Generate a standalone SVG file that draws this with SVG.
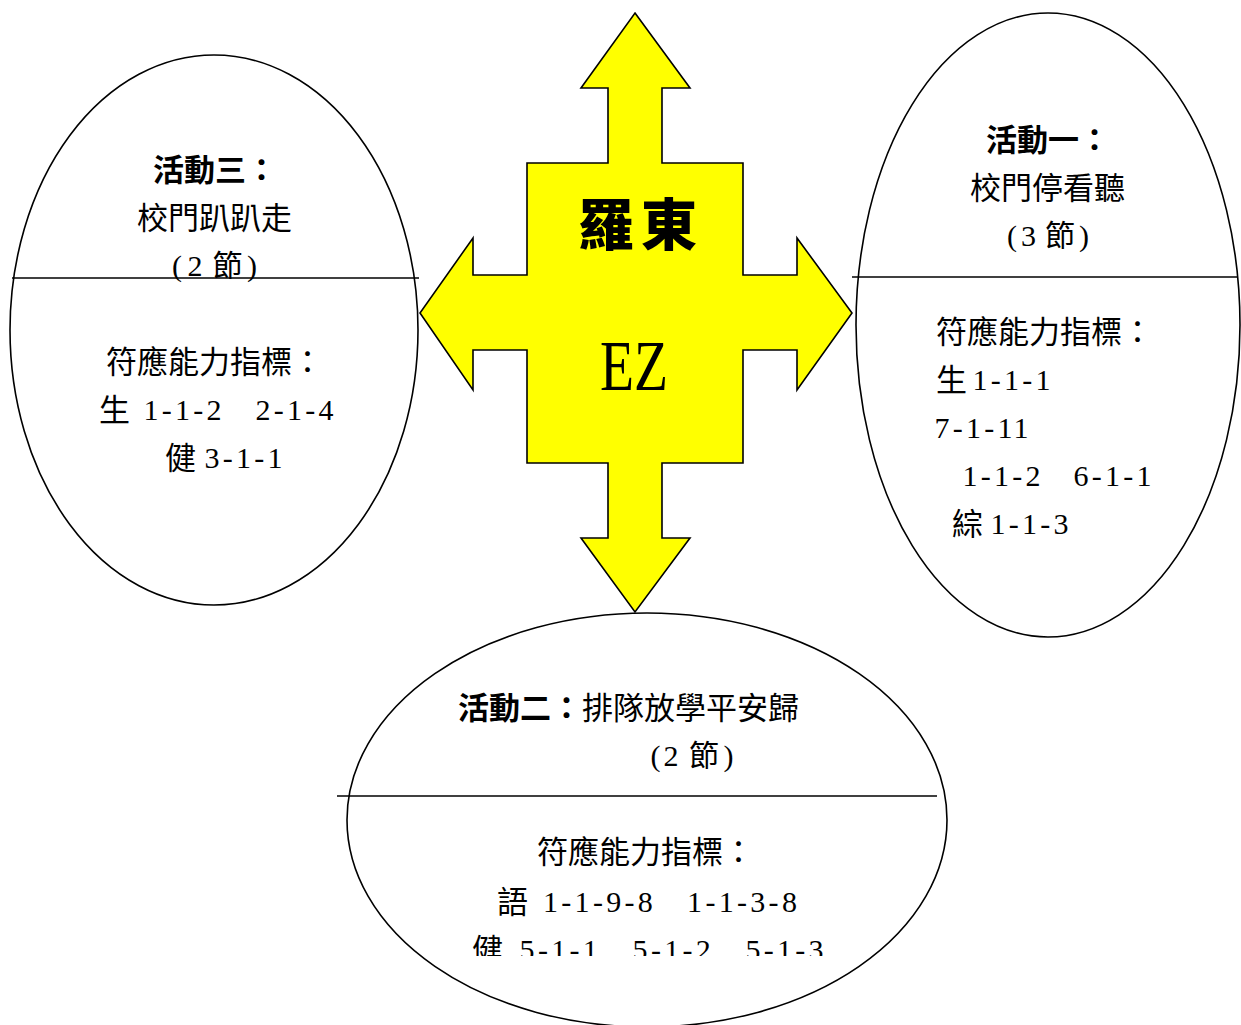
<svg xmlns="http://www.w3.org/2000/svg" width="1241" height="1025" viewBox="0 0 1241 1025">
<style>
.ell{fill:#ffffff;stroke:#000;stroke-width:1.6}
.div{stroke:#000;stroke-width:1.6}
.t{font-family:"Liberation Serif","Noto Sans CJK TC",serif;font-size:31px;fill:#000}
.n{font-family:"Liberation Serif",serif;font-size:30px;fill:#000;text-anchor:middle}
.p{font-family:"Liberation Serif","Noto Sans CJK TC",serif;font-size:30px;fill:#000;text-anchor:middle}
.b{font-weight:bold}
.arrow{fill:#ffff00;stroke:#000;stroke-width:1.6;stroke-linejoin:miter}
</style>
<defs>
<clipPath id="cut"><rect x="0" y="0" width="1241" height="956"/></clipPath>
</defs>
<rect x="0" y="0" width="1241" height="1025" fill="#ffffff"/>

<g id="activity3">
<ellipse class="ell" cx="214" cy="330" rx="204" ry="275"/>
<line class="div" x1="12" y1="278" x2="419" y2="278"/>
<text class="t b" x="153" y="181">活動三：</text>
<text class="t" x="137" y="229">校門趴趴走</text>
<text class="p" x="177 195 227.5 252" y="276">(2節)</text>
<text class="t" x="106" y="373">符應能力指標：</text>
<text class="t" x="99" y="421">生</text>
<text class="n" x="150.9 166.7 182.5 198.3 214.1" y="420">1-1-2</text>
<text class="n" x="262.9 278.7 294.5 310.3 326.1" y="420">2-1-4</text>
<text class="t" x="165" y="469">健</text>
<text class="n" x="211.9 227.7 243.5 259.3 275.1" y="468">3-1-1</text>
</g>

<g id="activity1">
<ellipse class="ell" cx="1048" cy="325" rx="192" ry="312"/>
<line class="div" x1="852" y1="277" x2="1237" y2="277"/>
<text class="t b" x="986" y="151">活動一：</text>
<text class="t" x="970" y="199">校門停看聽</text>
<text class="p" x="1012 1028.5 1060 1084" y="246">(3節)</text>
<text class="t" x="936" y="343">符應能力指標：</text>
<text class="t" x="936" y="391">生</text>
<text class="n" x="979.9 995.7 1011.5 1027.3 1043.1" y="390">1-1-1</text>
<text class="n" x="941.9 957.7 973.5 989.3 1005.1 1020.9" y="438">7-1-11</text>
<text class="n" x="969.9 985.7 1001.5 1017.3 1033.1" y="486">1-1-2</text>
<text class="n" x="1080.9 1096.7 1112.5 1128.3 1144.1" y="486">6-1-1</text>
<text class="t" x="952" y="535">綜</text>
<text class="n" x="997.9 1013.7 1029.5 1045.3 1061.1" y="534">1-1-3</text>
</g>

<g id="activity2">
<ellipse class="ell" cx="647" cy="820" rx="300" ry="207"/>
<line class="div" x1="337" y1="796" x2="937" y2="796"/>
<text class="t" x="458" y="719"><tspan class="b">活動二：</tspan><tspan>排隊放學平安歸</tspan></text>
<text class="p" x="655.5 671 704 728.6" y="766">(2節)</text>
<text class="t" x="537" y="863">符應能力指標：</text>
<text class="t" x="497" y="913">語</text>
<text class="n" x="550.5 566.3 582.1 597.9 613.7 629.5 645.3" y="912">1-1-9-8</text>
<text class="n" x="694.6 710.4 726.2 742.0 757.8 773.6 789.4" y="912">1-1-3-8</text>
<g clip-path="url(#cut)">
<text class="t" x="472" y="961">健</text>
<text class="n" x="527.1 542.9 558.7 574.5 590.3" y="960">5-1-1</text>
<text class="n" x="640.1 655.9 671.7 687.5 703.3" y="960">5-1-2</text>
<text class="n" x="752.9 768.7 784.5 800.3 816.1" y="960">5-1-3</text>
</g>
</g>

<g id="center">
<polygon class="arrow" points="635,13 690,88 662,88 662,163 743,163 743,275 797,275 797,238 852,313 797,390 797,350 743,350 743,463 662,463 662,538 690,538 635,612 581,538 608,538 608,463 527,463 527,350 473,350 473,390 420,313 473,238 473,275 527,275 527,163 608,163 608,88 581,88"/>
<text x="578" y="245" font-family="Noto Sans CJK TC, sans-serif" font-weight="900" font-size="56" textLength="119" lengthAdjust="spacing">羅東</text>
<text x="600" y="390" font-family="Liberation Serif, serif" font-size="72" textLength="68" lengthAdjust="spacingAndGlyphs">EZ</text>
</g>

<g id="connectors"></g>
</svg>
